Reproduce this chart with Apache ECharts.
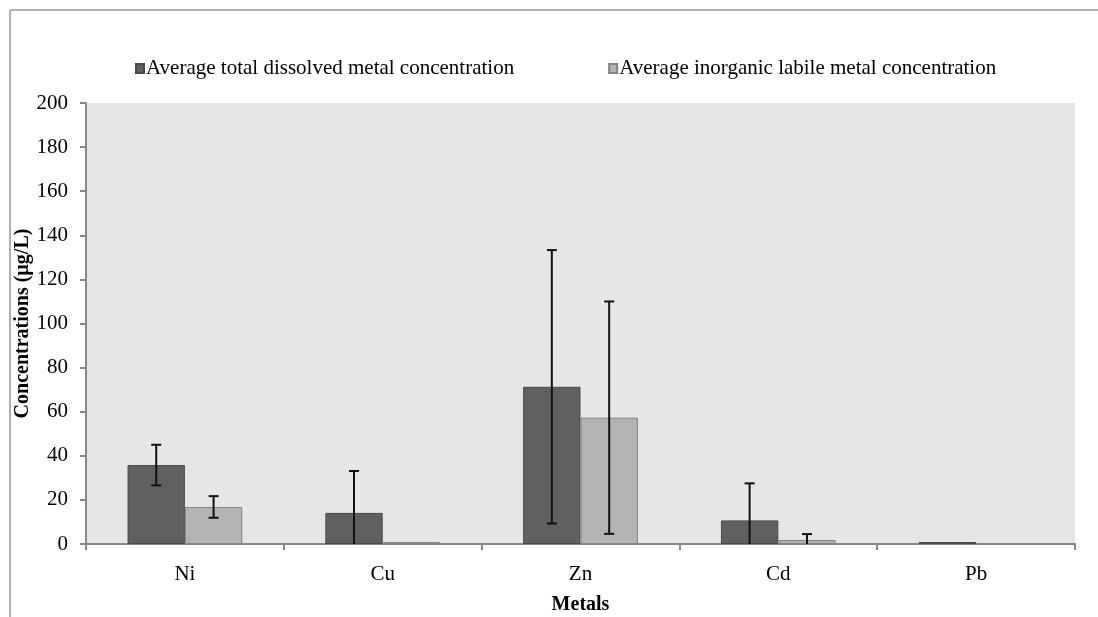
<!DOCTYPE html>
<html>
<head>
<meta charset="utf-8">
<script src="https://cdn.jsdelivr.net/npm/echarts@6/dist/echarts.min.js"></script>
<style>
  html, body { margin: 0; padding: 0; background: #fff; }
  #chart { width: 1098px; height: 617px; }
</style>
</head>
<body>
<div id="chart"></div>
<script>
// Metal concentrations (µg/L) with standard deviations
const categories = ['Ni', 'Cu', 'Zn', 'Cd', 'Pb'];
const seriesNames = ['Average total dissolved metal concentration', 'Average inorganic labile metal concentration'];
const totalDissolved = [35.8, 14.1, 71.3, 10.7, 0.9];
const totalDissolvedSd = [9.2, 19.0, 62.0, 16.8, null];
const inorganicLabile = [16.8, 0.9, 57.3, 1.8, 0];
const inorganicLabileSd = [4.9, null, 52.7, 2.7, null];
const yTicks = { min: 0, max: 200, interval: 20 };

const FONT = 'Liberation Serif';
const CATEGORY_GAP = 0.42;

function errorData(values, sds) {
  const out = [];
  values.forEach((v, i) => { if (sds[i] != null) out.push([i, v, sds[i]]); });
  return out;
}

function errorSeries(values, sds, side) {
  return {
    type: 'custom',
    silent: true,
    z: 5,
    data: errorData(values, sds),
    renderItem: function (params, api) {
      const idx = api.value(0), v = api.value(1), e = api.value(2);
      const band = api.size([1, 0])[0];
      const barW = band * (1 - CATEGORY_GAP) / 2;
      const base = api.coord([idx, v]);
      const x = base[0] + side * barW / 2;
      const top = api.coord([idx, v + e])[1];
      const lowVal = Math.max(0, v - e);
      const bottom = api.coord([idx, lowVal])[1];
      const cap = 5;
      const style = { stroke: '#111', lineWidth: 2 };
      const children = [
        { type: 'line', shape: { x1: x, y1: top, x2: x, y2: bottom }, style },
        { type: 'line', shape: { x1: x - cap, y1: top, x2: x + cap, y2: top }, style }
      ];
      if (v - e > 0) {
        children.push({ type: 'line', shape: { x1: x - cap, y1: bottom, x2: x + cap, y2: bottom }, style });
      }
      return { type: 'group', children };
    }
  };
}

const chart = echarts.init(document.getElementById('chart'), null, { renderer: 'canvas' });
chart.setOption({
  animation: false,
  backgroundColor: '#fff',
  textStyle: { fontFamily: FONT },
  graphic: [
    { type: 'line', shape: { x1: 10, y1: 10, x2: 1098, y2: 10 }, style: { stroke: '#b0b0b0', lineWidth: 2 } },
    { type: 'line', shape: { x1: 10, y1: 10, x2: 10, y2: 617 }, style: { stroke: '#b0b0b0', lineWidth: 2 } }
  ],
  legend: {
    left: 130,
    top: 53,
    itemWidth: 8,
    itemHeight: 9,
    itemGap: 94,
    icon: 'rect',
    textStyle: { fontFamily: FONT, fontSize: 21, color: '#000', padding: [0, 0, 0, -3] },
    data: seriesNames
  },
  grid: {
    left: 86, right: 23, top: 103, bottom: 73,
    outerBoundsMode: 'none',
    containLabel: false,
    show: true, backgroundColor: '#e6e6e6', borderWidth: 0
  },
  xAxis: {
    type: 'category',
    data: categories,
    name: 'Metals',
    nameLocation: 'middle',
    nameGap: 51,
    nameMoveOverlap: false,
    nameTextStyle: { fontFamily: FONT, fontSize: 20, fontWeight: 'bold', color: '#000' },
    axisLine: { lineStyle: { color: '#888', width: 2 } },
    axisTick: { show: true, length: 6, lineStyle: { color: '#888', width: 2 } },
    axisLabel: { fontFamily: FONT, fontSize: 21, color: '#000', margin: 20 },
    splitLine: { show: false }
  },
  yAxis: {
    type: 'value',
    min: yTicks.min, max: yTicks.max, interval: yTicks.interval,
    name: 'Concentrations (µg/L)',
    nameLocation: 'middle',
    nameGap: 53,
    nameMoveOverlap: false,
    nameTextStyle: { fontFamily: FONT, fontSize: 20, fontWeight: 'bold', color: '#000' },
    axisLine: { show: true, lineStyle: { color: '#888', width: 2 } },
    axisTick: { show: true, length: 6, lineStyle: { color: '#888', width: 2 } },
    axisLabel: { fontFamily: FONT, fontSize: 21, color: '#000', margin: 18 },
    splitLine: { show: false }
  },
  series: [
    {
      name: seriesNames[0],
      type: 'bar',
      data: totalDissolved,
      barGap: '0%',
      barCategoryGap: (CATEGORY_GAP * 100) + '%',
      itemStyle: { color: '#606060', borderColor: '#4a4a4a', borderWidth: 1 }
    },
    {
      name: seriesNames[1],
      type: 'bar',
      data: inorganicLabile,
      barGap: '0%',
      barCategoryGap: (CATEGORY_GAP * 100) + '%',
      itemStyle: { color: '#b3b3b3', borderColor: '#848484', borderWidth: 1 }
    },
    errorSeries(totalDissolved, totalDissolvedSd, -1),
    errorSeries(inorganicLabile, inorganicLabileSd, 1)
  ]
});
</script>
</body>
</html>
